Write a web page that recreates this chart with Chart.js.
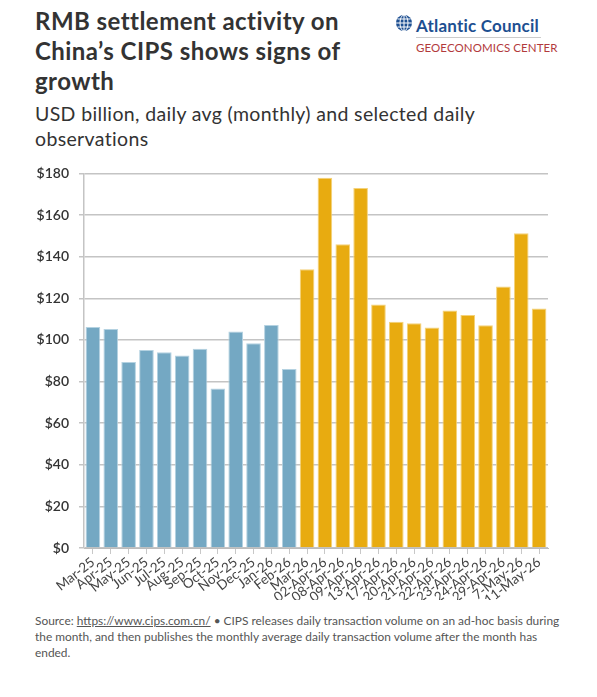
<!DOCTYPE html>
<html>
<head>
<meta charset="utf-8">
<script src="https://cdn.jsdelivr.net/npm/chart.js@4"></script>
<style>
body{margin:0;width:597px;height:697px;background:#fff;font-family:Lato,"Open Sans",sans-serif;color:#333;position:relative;overflow:hidden}
.title{position:absolute;left:35px;top:6px;width:360px;font-size:24px;font-weight:700;line-height:30px;color:#333;letter-spacing:0.45px}
.sub{position:absolute;left:35px;top:101px;width:520px;font-size:19.5px;line-height:25px;color:#333;letter-spacing:0.35px}
.logo{position:absolute;left:395px;top:12px}
.logo .ac{position:absolute;left:21px;top:3px;font-size:17px;font-weight:700;color:#1d4f91;white-space:nowrap;letter-spacing:0.2px}
.logo .line{position:absolute;left:21px;top:25px;width:125px;height:1px;background:#ccc}
.logo .geo{position:absolute;left:21px;top:29px;font-size:11.5px;color:#b23a3c;white-space:nowrap;letter-spacing:0.1px}
.chartbox{position:absolute;left:0;top:155px;width:597px;height:445px}
.foot{position:absolute;left:35px;top:613px;width:530px;font-size:11.9px;line-height:16px;color:#555}
.foot u{text-decoration:underline}
</style>
</head>
<body>
<div class="title">RMB settlement activity on China’s CIPS shows signs of growth</div>
<div class="sub">USD billion, daily avg (monthly) and selected daily observations</div>
<div class="logo">
<svg width="18" height="18" viewBox="0 0 18 18" style="position:absolute;left:0;top:2px">
<circle cx="9" cy="9" r="8" fill="#1d4f91"/>
<g stroke="#fff" stroke-width="1" fill="none">
<line x1="1" y1="9" x2="17" y2="9"/><line x1="9" y1="1" x2="9" y2="17"/>
<ellipse cx="9" cy="9" rx="4" ry="8"/><line x1="2.5" y1="5" x2="15.5" y2="5"/><line x1="2.5" y1="13" x2="15.5" y2="13"/>
</g>
</svg>
<div class="ac">Atlantic Council</div>
<div class="line"></div>
<div class="geo">GEOECONOMICS CENTER</div>
</div>
<div class="chartbox"><canvas id="myChart" width="597" height="445"></canvas></div>
<div class="foot">Source: <u>https://www.cips.com.cn/</u> • CIPS releases daily transaction volume on an ad-hoc basis during the month, and then publishes the monthly average daily transaction volume after the month has ended.</div>
<script>
const categories=['Mar-25','Apr-25','May-25','Jun-25','Jul-25','Aug-25','Sep-25','Oct-25','Nov-25','Dec-25','Jan-26','Feb-26','Mar-26','02-Apr-26','08-Apr-26','09-Apr-26','13-Apr-26','17-Apr-26','20-Apr-26','21-Apr-26','22-Apr-26','23-Apr-26','24-Apr-26','29-Apr-26','7-May-26','11-May-26']
const values=[106.2,105.2,89.4,95.1,94.1,92.5,95.7,76.7,104,98.4,107.1,86,134,177.9,146,173,117,108.7,108,106,114.1,111.9,107,125.7,151.3,115.1]
// first 12 are monthly averages before the surge, rest highlighted
const blueCount=12
const yTicks=[0,20,40,60,80,100,120,140,160,180]

const colors=values.map((v,i)=> i<blueCount?'#74a8c3':'#e8ab10')
const borders=values.map((v,i)=> i<blueCount?'#b4d2e1':'#f4d27a')

const ctx=document.getElementById('myChart')
new Chart(ctx,{
  type:'bar',
  data:{
    labels:categories,
    datasets:[{
      data:values,
      backgroundColor:colors,
      borderColor:borders,
      borderWidth:1,
      barPercentage:1,
      categoryPercentage:0.82
    }]
  },
  options:{
    responsive:false,
    animation:false,
    layout:{padding:{top:15,right:49,left:0,bottom:0}},
    plugins:{legend:{display:false},tooltip:{enabled:false}},
    scales:{
      x:{
        grid:{display:true,drawOnChartArea:false,color:'#c8c8c8',tickLength:6,offset:false},
        border:{color:'#bbb'},
        ticks:{color:'#444',font:{family:'Lato',size:13.5},minRotation:38,maxRotation:38,autoSkip:false,padding:0},
        afterFit:(s)=>{s.height=52}
      },
      y:{
        min:0,max:180,
        afterBuildTicks:(s)=>{s.ticks=yTicks.map(v=>({value:v}))},
        grid:{color:'#c4c4c4',tickLength:5,lineWidth:1.5},
        border:{display:true,color:'#c4c4c4',width:1.5},
        ticks:{color:'#333',font:{family:'Lato',size:14,weight:'600'},padding:10,callback:(v)=>'$'+v},
        afterFit:(s)=>{s.width=84}
      }
    }
  }
})
</script>
</body>
</html>
